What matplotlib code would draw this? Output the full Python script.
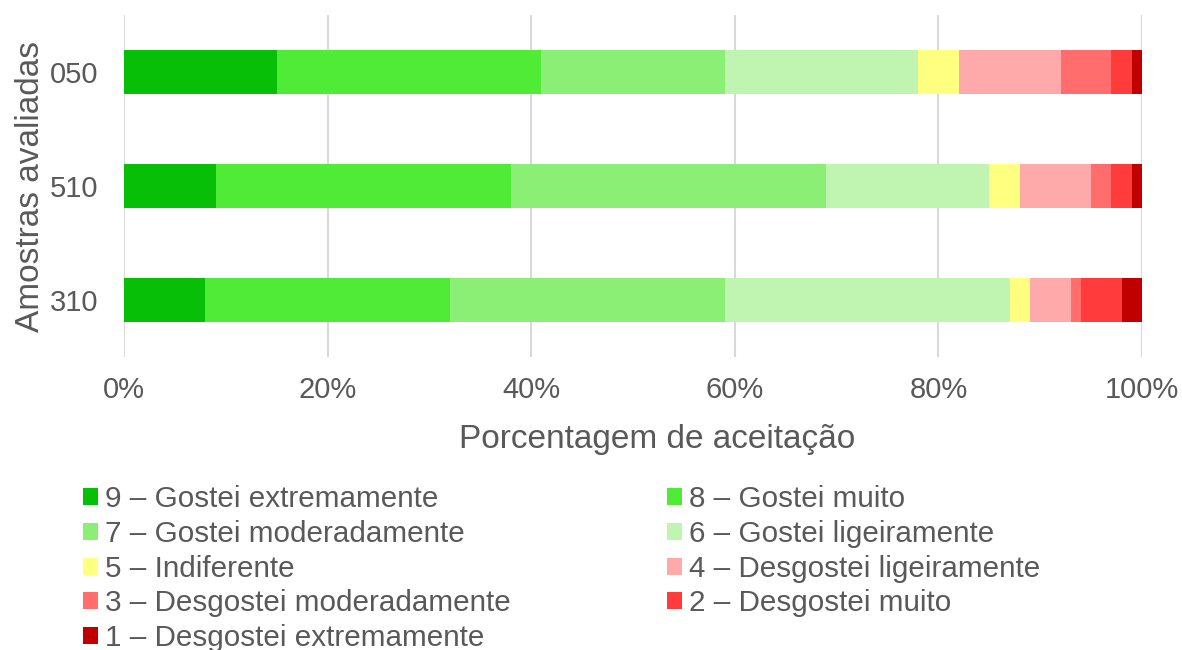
import matplotlib
matplotlib.use("Agg")
import matplotlib.pyplot as plt
from matplotlib.ticker import FuncFormatter
import numpy as np

plt.rcParams['font.family'] = ['Liberation Sans', 'DejaVu Sans']

samples = ['310', '510', '050']
labels = ['9 – Gostei extremamente', '8 – Gostei muito', '7 – Gostei moderadamente',
          '6 – Gostei ligeiramente', '5 – Indiferente', '4 – Desgostei ligeiramente',
          '3 – Desgostei moderadamente', '2 – Desgostei muito', '1 – Desgostei extremamente']
colors = ['#07BF07', '#50EB36', '#8CEF75', '#C0F5B1', '#FFFF80', '#FFAAAA',
          '#FF6D6D', '#FF3B3B', '#C00000']
# values per category (order: 310, 510, 050)
v9 = [8, 9, 15]
v8 = [24, 29, 26]
v7 = [27, 31, 18]
v6 = [28, 16, 19]
v5 = [2, 3, 4]
v4 = [4, 7, 10]
v3 = [1, 2, 5]
v2 = [4, 2, 2]
v1 = [2, 1, 1]
series = [v9, v8, v7, v6, v5, v4, v3, v2, v1]

fig = plt.figure(figsize=(11.82, 6.5), dpi=100)
ax = fig.add_axes([124/1182, 1-357/650, (1142-124)/1182, 342/650])

tc = '#595959'
y = np.arange(len(samples))
left = np.zeros(len(samples))
handles = []
for vals, c, lab in zip(series, colors, labels):
    vals = np.array(vals, dtype=float)
    h = ax.barh(y, vals, left=left, height=0.39, color=c, label=lab, zorder=3)
    handles.append(h)
    left += vals

ax.set_xlim(0, 100)
ax.set_ylim(-0.5, 2.5)
ax.set_xticks([0, 20, 40, 60, 80, 100])
ax.xaxis.set_major_formatter(FuncFormatter(lambda v, p: f'{int(v)}%'))
ax.set_yticks(y)
ax.set_yticklabels(samples)
ax.grid(axis='x', color='#D9D9D9', linewidth=1.5, zorder=0)
for s in ax.spines.values():
    s.set_visible(False)
ax.tick_params(axis='both', length=0, labelsize=21, labelcolor=tc)
ax.tick_params(axis='x', pad=14)
ax.tick_params(axis='y', pad=18.5)
ax.set_xlabel('Porcentagem de aceitação', fontsize=24, color=tc, labelpad=17)
ax.xaxis.set_label_coords((657 - 124) / 1018, -0.195)
ax.set_ylabel('Amostras avaliadas', fontsize=24, color=tc, labelpad=3)

order = [0, 2, 4, 6, 8, 1, 3, 5, 7]
leg = fig.legend([handles[i] for i in order], [labels[i] for i in order],
                 ncol=2, loc='upper left', bbox_to_anchor=(83/1182, 1-485/650),
                 frameon=False, fontsize=21.3, labelcolor=tc,
                 handlelength=0.5, handleheight=0.5, handletextpad=0.24,
                 labelspacing=0.23, columnspacing=5.3, borderaxespad=0, borderpad=0)

fig.savefig('out.png', dpi=100)
